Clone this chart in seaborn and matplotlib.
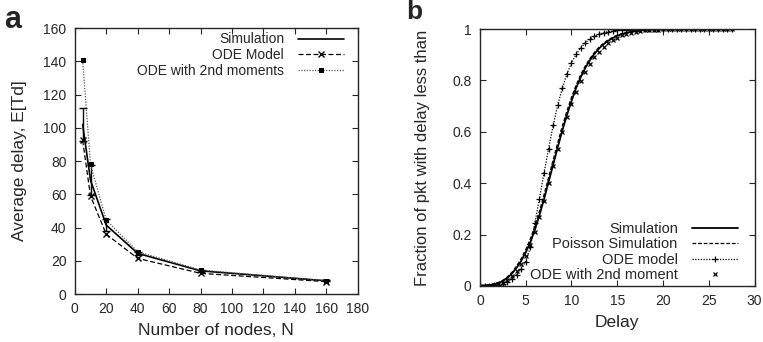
import numpy as np
import pandas as pd
import seaborn as sns
import matplotlib.pyplot as plt

# -----------------------------
# Data: panel a (average delay vs number of nodes)
# -----------------------------
nodes = [5, 10, 20, 40, 80, 160]
sim_delay = [102.0, 68.5, 41.5, 24.5, 14.0, 8.0]
sim_err = [10.0, 9.0, 3.5, 1.0, 0.6, 0.3]
ode_delay = [92.5, 59.0, 36.0, 21.5, 12.5, 7.5]
ode2_delay = [140.5, 78.0, 44.5, 25.5, 14.5, 8.0]

# -----------------------------
# Data: panel b (CDF of delay)
# -----------------------------
delay = [0.0, 0.5, 1.0, 1.5, 2.0, 2.5, 3.0, 3.5, 4.0, 4.5,
         5.0, 5.5, 6.0, 6.5, 7.0, 7.5, 8.0, 8.5, 9.0, 9.5,
         10.0, 10.5, 11.0, 11.5, 12.0, 12.5, 13.0, 13.5, 14.0, 14.5,
         15.0, 15.5, 16.0, 16.5, 17.0, 17.5, 18.0, 18.5, 19.0, 19.5,
         20.0, 20.5, 21.0, 21.5, 22.0, 22.5, 23.0, 23.5, 24.0, 24.5,
         25.0, 25.5, 26.0, 26.5, 27.0, 27.5]
cdf_sim = [0.000, 0.001, 0.003, 0.006, 0.011, 0.019, 0.031, 0.048, 0.070, 0.097,
           0.130, 0.170, 0.218, 0.275, 0.338, 0.405, 0.472, 0.540, 0.605, 0.665,
           0.720, 0.770, 0.812, 0.848, 0.878, 0.903, 0.924, 0.941, 0.954, 0.965,
           0.974, 0.980, 0.985, 0.989, 0.992, 0.994, 0.996, 0.997, 0.998, 0.998,
           0.999, 0.999, 0.999, 1.000, 1.000, 1.000, 1.000, 1.000, 1.000, 1.000,
           1.000, 1.000, 1.000, 1.000, 1.000, 1.000]
cdf_poisson = [0.000, 0.001, 0.003, 0.007, 0.013, 0.022, 0.035, 0.053, 0.077, 0.106,
               0.141, 0.183, 0.233, 0.291, 0.355, 0.423, 0.491, 0.558, 0.622, 0.681,
               0.734, 0.781, 0.822, 0.856, 0.885, 0.909, 0.929, 0.945, 0.958, 0.968,
               0.976, 0.982, 0.987, 0.990, 0.993, 0.995, 0.996, 0.997, 0.998, 0.999,
               0.999, 0.999, 1.000, 1.000, 1.000, 1.000, 1.000, 1.000, 1.000, 1.000,
               1.000, 1.000, 1.000, 1.000, 1.000, 1.000]
cdf_ode = [0.000, 0.000, 0.001, 0.002, 0.004, 0.009, 0.017, 0.028, 0.044, 0.065,
           0.095, 0.150, 0.245, 0.340, 0.440, 0.535, 0.625, 0.705, 0.770, 0.825,
           0.868, 0.901, 0.927, 0.946, 0.961, 0.972, 0.980, 0.986, 0.990, 0.993,
           0.995, 0.997, 0.998, 0.998, 0.999, 0.999, 1.000, 1.000, 1.000, 1.000,
           1.000, 1.000, 1.000, 1.000, 1.000, 1.000, 1.000, 1.000, 1.000, 1.000,
           1.000, 1.000, 1.000, 1.000, 1.000, 1.000]
cdf_ode2 = [0.000, 0.000, 0.001, 0.003, 0.007, 0.013, 0.023, 0.038, 0.058, 0.085,
            0.118, 0.160, 0.210, 0.268, 0.332, 0.400, 0.468, 0.535, 0.598, 0.656,
            0.708, 0.755, 0.797, 0.833, 0.864, 0.890, 0.912, 0.930, 0.945, 0.957,
            0.967, 0.975, 0.981, 0.986, 0.990, 0.993, 0.995, 0.996, 0.997, 0.998,
            0.999, 0.999, 0.999, 1.000, 1.000, 1.000, 1.000, 1.000, 1.000, 1.000,
            1.000, 1.000, 1.000, 1.000, 1.000, 1.000]

# -----------------------------
# Style
# -----------------------------
sns.set_style('ticks')
plt.rcParams['font.family'] = ['Liberation Sans', 'DejaVu Sans']
plt.rcParams['axes.linewidth'] = 1.0


def gnuplot_axes(ax):
    ax.tick_params(direction='in', top=True, right=True, length=4, width=0.8,
                   labelsize=10, pad=6)


fig = plt.figure(figsize=(7.63, 3.42), dpi=100)
ax_a = fig.add_axes([0.098, 0.140, 0.371, 0.778])
ax_b = fig.add_axes([0.629, 0.164, 0.360, 0.751])

# -----------------------------
# Panel a
# -----------------------------
df_a = pd.DataFrame({'N': nodes, 'sim': sim_delay, 'ode': ode_delay, 'ode2': ode2_delay})
sns.lineplot(data=df_a, x='N', y='sim', ax=ax_a, color='black', linewidth=1.2,
             label='Simulation')
ax_a.errorbar(nodes, sim_delay, yerr=sim_err, fmt='none', ecolor='black',
              elinewidth=1.0, capsize=3, capthick=1.0)
sns.lineplot(data=df_a, x='N', y='ode', ax=ax_a, color='black', linewidth=0.9,
             linestyle=(0, (4, 2)), marker='x', markersize=5, markeredgewidth=1.0,
             markeredgecolor='black', label='ODE Model')
sns.lineplot(data=df_a, x='N', y='ode2', ax=ax_a, color='#555555', linewidth=0.9,
             linestyle=(0, (1, 1.2)), marker='s', markersize=3.5, markeredgecolor='black',
             markerfacecolor='black', label='ODE with 2nd moments')
ax_a.set_xlim(0, 180)
ax_a.set_ylim(0, 160)
ax_a.set_xticks(range(0, 181, 20))
ax_a.set_yticks(range(0, 161, 20))
ax_a.set_xlabel('Number of nodes, N', fontsize=12.5, labelpad=5)
ax_a.set_ylabel('Average delay, E[Td]', fontsize=12.5, labelpad=12)
gnuplot_axes(ax_a)
ax_a.legend(loc='upper right', bbox_to_anchor=(0.985, 1.02), frameon=False,
            markerfirst=False, fontsize=10, handlelength=3.3, handletextpad=1.0,
            labelspacing=0.12, borderaxespad=0.3)

# -----------------------------
# Panel b
# -----------------------------
df_b = pd.DataFrame({'delay': delay, 'sim': cdf_sim, 'poisson': cdf_poisson,
                     'ode': cdf_ode, 'ode2': cdf_ode2})
sns.lineplot(data=df_b, x='delay', y='sim', ax=ax_b, color='black', linewidth=1.3,
             label='Simulation')
sns.lineplot(data=df_b, x='delay', y='poisson', ax=ax_b, color='black', linewidth=0.9,
             linestyle=(0, (3, 1.5)), label='Poisson Simulation')
sns.lineplot(data=df_b, x='delay', y='ode', ax=ax_b, color='black', linewidth=0.9,
             linestyle=(0, (1, 1.2)), marker='+', markersize=5, markeredgewidth=0.9,
             markeredgecolor='black', label='ODE model')
sns.lineplot(data=df_b, x='delay', y='ode2', ax=ax_b, color='black', linestyle='none',
             marker='x', markersize=3.5, markeredgewidth=0.9, markeredgecolor='black',
             label='ODE with 2nd moment')
ax_b.set_xlim(0, 30)
ax_b.set_ylim(0, 1)
ax_b.set_xticks(range(0, 31, 5))
ax_b.set_yticks([0, 0.2, 0.4, 0.6, 0.8, 1.0])
ax_b.set_yticklabels(['0', '0.2', '0.4', '0.6', '0.8', '1'])
ax_b.set_xlabel('Delay', fontsize=12.5, labelpad=5)
ax_b.set_ylabel('Fraction of pkt with delay less than', fontsize=12, labelpad=16)
gnuplot_axes(ax_b)
ax_b.legend(loc='lower right', bbox_to_anchor=(0.975, -0.025), frameon=False,
            markerfirst=False, fontsize=10.5, handlelength=3.1, handletextpad=1.0,
            labelspacing=0.1, borderaxespad=0.3)

# Panel letters
fig.text(0.006, 0.985, 'a', fontsize=22, fontweight='bold', va='top')
fig.text(0.533, 1.0, 'b', fontsize=19, fontweight='bold', va='top')

fig.savefig('out.png', dpi=100)
